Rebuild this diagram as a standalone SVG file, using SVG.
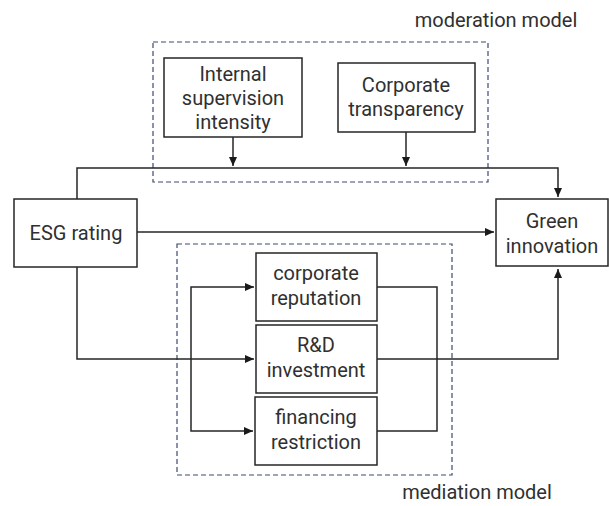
<svg xmlns="http://www.w3.org/2000/svg" width="609" height="506" viewBox="0 0 609 506">
<defs>
<marker id="ah" markerWidth="10" markerHeight="10" refX="9" refY="5" orient="auto" markerUnits="userSpaceOnUse"><path d="M0,1 L9,5 L0,9 Z" fill="#1a1a1a"/></marker>
</defs>
<style>
.box{fill:#fff;stroke:#262626;stroke-width:1.5}
.grp{fill:none;stroke:#3b4a6e;stroke-width:1.2;stroke-dasharray:5,3}
.t{font-family:Roboto,"Noto Sans",sans-serif;font-size:20px;fill:#303030;text-anchor:middle}
.c{fill:none;stroke:#262626;stroke-width:1.5}
</style>
<rect width="609" height="506" fill="#fff"/>
<g id="moderation-group">
<rect class="grp" x="153" y="42" width="335" height="140"/>
<text class="t" x="496" y="27">moderation model</text>
</g>
<g id="mediation-group">
<rect class="grp" x="177" y="244" width="275" height="231"/>
<text class="t" x="477" y="499">mediation model</text>
</g>
<g id="connectors">
<path class="c" d="M77,199 V168 H558 V197" marker-end="url(#ah)"/>
<path class="c" d="M233,137 V166" marker-end="url(#ah)"/>
<path class="c" d="M406,132 V166" marker-end="url(#ah)"/>
<path class="c" d="M137,232 H494" marker-end="url(#ah)"/>
<path class="c" d="M77,267 V359 H254" marker-end="url(#ah)"/>
<path class="c" d="M191,359 V287 H254" marker-end="url(#ah)"/>
<path class="c" d="M191,359 V431 H253" marker-end="url(#ah)"/>
<path class="c" d="M377,287 H437 V431 H377"/>
<path class="c" d="M377,359 H558 V269" marker-end="url(#ah)"/>
</g>
<g id="internal-supervision">
<rect class="box" x="164" y="58" width="138" height="79"/>
<text class="t" x="233" y="81">Internal</text>
<text class="t" x="233" y="105">supervision</text>
<text class="t" x="233" y="129">intensity</text>
</g>
<g id="corporate-transparency">
<rect class="box" x="338" y="63" width="137" height="69"/>
<text class="t" x="406" y="92">Corporate</text>
<text class="t" x="406" y="116">transparency</text>
</g>
<g id="esg-rating">
<rect class="box" x="14" y="199" width="123" height="68"/>
<text class="t" x="76" y="240">ESG rating</text>
</g>
<g id="green-innovation">
<rect class="box" x="496" y="199" width="112" height="67"/>
<text class="t" x="552" y="228">Green</text>
<text class="t" x="552" y="253">innovation</text>
</g>
<g id="corporate-reputation">
<rect class="box" x="256" y="253" width="121" height="68"/>
<text class="t" x="316" y="280">corporate</text>
<text class="t" x="316" y="305">reputation</text>
</g>
<g id="rd-investment">
<rect class="box" x="256" y="325" width="121" height="68"/>
<text class="t" x="316" y="352">R&amp;D</text>
<text class="t" x="316" y="377">investment</text>
</g>
<g id="financing-restriction">
<rect class="box" x="255" y="397" width="122" height="68"/>
<text class="t" x="316" y="424">financing</text>
<text class="t" x="316" y="449">restriction</text>
</g>
</svg>
